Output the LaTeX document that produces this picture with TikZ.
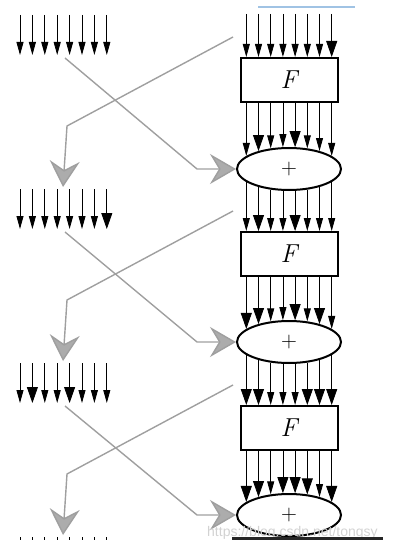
\documentclass[tikz,border=0pt]{standalone}
\usepackage{fontspec}
\newfontfamily\wmfont{Liberation Sans}
\usetikzlibrary{arrows.meta,shapes.geometric,calc}
\tikzset{
  bit/.style={draw=black, line width=0.8pt},
  fbox/.style={draw, line width=2pt, minimum width=97pt, minimum height=44pt, inner sep=0pt, font=\fontsize{26}{28}\selectfont\itshape},
  xorbox/.style={ellipse, draw, line width=2pt, minimum width=104pt, minimum height=42pt, inner sep=0pt, font=\fontsize{22}{22}\selectfont},
  grayline/.style={draw=gray!75, line width=1.4pt, line join=round,
    -{Stealth[length=26pt,width=30pt,inset=9pt,fill=gray!65]}},
}
\newcommand\barr[3]{%
  \pgfmathsetmacro\hl{13+3*#3}\pgfmathsetmacro\hw{7+4*#3}%
  \draw[bit,-{Triangle[length=\hl pt,width=\hw pt]}] #1 -- #2;}
\begin{document}
\begin{tikzpicture}[x=1pt,y=-1pt]
\useasboundingbox (0,0) rectangle (395,540);
\begin{scope}
\clip (0,0) rectangle (395,540);
% F boxes and XOR ellipses
\foreach \r in {0,1,2}{
  \node[fbox] (F\r) at (289,{80+174*\r}) {F};
  \node[xorbox] (X\r) at (289,{169+173*\r}) {+};
}
% left bit groups
\foreach \k/\b in {0/0,1/0,2/0,3/0,4/0,5/0,6/0,7/0}{
  \barr{({20+12.4*\k},15)}{({20+12.4*\k},55)}{\b}}
\foreach \k/\b in {0/0,1/0,2/0,3/0,4/0,5/0,6/0,7/1}{
  \barr{({20+12.4*\k},189)}{({20+12.4*\k},229)}{\b}}
\foreach \k/\b in {0/0,1/1,2/0,3/0,4/1,5/0,6/0,7/0}{
  \barr{({20+12.4*\k},363)}{({20+12.4*\k},403)}{\b}}
\foreach \k in {0,...,7}{
  \barr{({20+12.4*\k},537)}{({20+12.4*\k},577)}{0}}
% right: into F0 from top
\foreach \k/\b in {0/0,1/0,2/0,3/0,4/0,5/0,6/0,7/1}{
  \pgfmathsetmacro\dx{(\k-3.5)*12.2}
  \barr{($(F0.north)+(\dx,-43)$)}{($(F0.north)+(\dx,0)$)}{\b}}
% F -> X
\foreach \r/\bl in {0/{0,1,0,0,1,0,0,0},1/{1,1,0,0,1,0,1,0},2/{1,1,0,1,1,1,0,1}}{
  \foreach \b [count=\c from 0] in \bl {
    \pgfmathsetmacro\dx{(\c-3.5)*12.2}
    \pgfmathsetmacro\eo{22*sqrt(1-(\dx/53)^2)}
    \barr{($(F\r.south)+(\dx,0)$)}{($(X\r.center)+(\dx,-\eo)$)}{\b}}}
% X -> next F
\foreach \r/\n/\bl in {0/1/{0,1,0,0,1,0,0,0},1/2/{1,1,0,0,0,1,1,1}}{
  \foreach \b [count=\c from 0] in \bl {
    \pgfmathsetmacro\dx{(\c-3.5)*12.2}
    \pgfmathsetmacro\eo{22*sqrt(1-(\dx/53)^2)}
    \barr{($(X\r.center)+(\dx,\eo)$)}{($(F\n.north)+(\dx,0)$)}{\b}}}
% gray crossing lines
\foreach \r in {0,1,2}{
  \coordinate (a\r) at (65,{58+174*\r});
  \coordinate (ac\r) at (197,{169+173*\r});
  \coordinate (b\r) at (233,{37+174*\r});
  \coordinate (bc\r) at (67,{126+174*\r});
  \coordinate (t\r) at (63,{187+174*\r});
  \draw[grayline] (a\r) -- (ac\r) -- (X\r.west);
  \draw[grayline] (b\r) -- (bc\r) -- (t\r);
}
% scan artefacts
\draw[line width=1.5pt, color={rgb,255:red,160;green,195;blue,228}] (258,7) -- (355,7);
\node[anchor=base west, inner sep=0pt, text=gray!35, font=\wmfont\fontsize{14}{14}\selectfont] (wm) at (207,536) {https://blog.csdn.net/tongsy};
\fill[black!85] (232,536.5) rectangle (383,540);
\end{scope}
\end{tikzpicture}
\end{document}
